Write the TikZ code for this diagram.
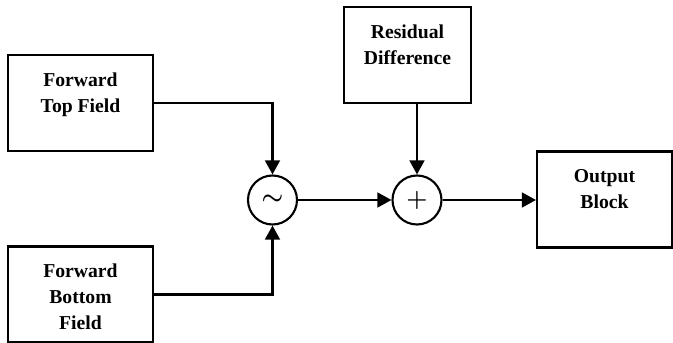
\documentclass[tikz,border=0pt]{standalone}
\usepackage{fontspec}
\setmainfont{Liberation Serif}
\usepackage{tikz}
\usetikzlibrary{arrows.meta,positioning}

\begin{document}
\begin{tikzpicture}[
    block/.style={rectangle, draw, line width=1.5pt, minimum height=2.4cm},
    blocktext/.style={anchor=north, align=center, inner sep=0pt, yshift=-0.46cm, font=\bfseries\fontsize{14}{18.4}\selectfont},
    op/.style={circle, draw, line width=1.5pt, minimum size=1.225cm, inner sep=0pt, font=\boldmath\fontsize{18}{18}\selectfont},
    arrow/.style={-{Triangle[length=3.5mm,width=3.7mm]}, line width=1.5pt}
]
    \useasboundingbox (0,0) rectangle (16.825,8.575);

    \node[block, minimum width=3.625cm, label={[blocktext]north:{Forward\\Top Field}}] (FTF) at (2.0125,6.0) {};
    \node[block, minimum width=3.625cm, label={[blocktext]north:{Forward\\Bottom\\Field}}] (FBF) at (2.0125,1.2125) {};
    \node[block, minimum width=3.175cm, label={[blocktext]north:{Residual\\Difference}}] (RD) at (10.1875,7.2) {};
    \node[block, minimum width=3.375cm, label={[blocktext]north:{Output\\Block}}] (OB) at (15.1125,3.5875) {};

    \node[op] (avg) at (6.8125,3.575) {$\sim$};
    \node[op] (sum) at (10.425,3.575) {$+$};

    \draw[arrow] (FTF.east) -| (avg.north);
    \draw[arrow] (FBF.east) -| (avg.south);
    \draw[arrow] (avg) -- (sum);
    \draw[arrow] (RD.south -| sum) -- (sum);
    \draw[arrow] (sum) -- (sum -| OB.west);
\end{tikzpicture}
\end{document}
